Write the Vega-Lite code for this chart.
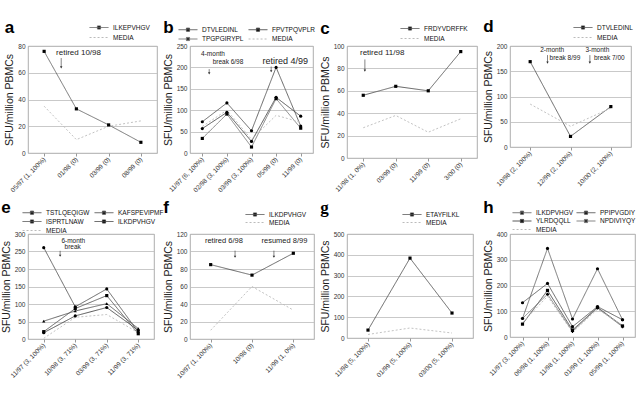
{
  "$schema": "https://vega.github.io/schema/vega-lite/v6.json",
  "padding": {"left": 0, "top": 17, "right": 0, "bottom": 0},
  "background": "white",
  "columns": 4,
  "bounds": "flush",
  "spacing": {"row": 76, "column": 33},
  "resolve": {"scale": {"color": "independent", "strokeDash": "independent", "shape": "independent"}, "legend": {"color": "independent", "strokeDash": "independent", "shape": "independent"}},
  "datasets": {
    "a": [
      {"s": "ILKEPVHGV", "i": 0, "v": 76}, {"s": "ILKEPVHGV", "i": 1, "v": 33}, {"s": "ILKEPVHGV", "i": 2, "v": 21}, {"s": "ILKEPVHGV", "i": 3, "v": 8},
      {"s": "MEDIA", "i": 0, "v": 35}, {"s": "MEDIA", "i": 1, "v": 10}, {"s": "MEDIA", "i": 2, "v": 20}, {"s": "MEDIA", "i": 3, "v": 24}
    ],
    "a_t": [{"i": 0.37, "v": 75, "t": "retired 10/98"}],
    "a_r": [{"i": 0.53, "v": 64, "v2": 71}],
    "b": [
      {"s": "DTVLEDINL", "i": 0, "v": 73}, {"s": "DTVLEDINL", "i": 1, "v": 117}, {"s": "DTVLEDINL", "i": 2, "v": 52}, {"s": "DTVLEDINL", "i": 3, "v": 200}, {"s": "DTVLEDINL", "i": 4, "v": 63},
      {"s": "FPVTPQVPLR", "i": 0, "v": 57}, {"s": "FPVTPQVPLR", "i": 1, "v": 95}, {"s": "FPVTPQVPLR", "i": 2, "v": 27}, {"s": "FPVTPQVPLR", "i": 3, "v": 130}, {"s": "FPVTPQVPLR", "i": 4, "v": 86},
      {"s": "TPGPGIRYPL", "i": 0, "v": 34}, {"s": "TPGPGIRYPL", "i": 1, "v": 91}, {"s": "TPGPGIRYPL", "i": 2, "v": 14}, {"s": "TPGPGIRYPL", "i": 3, "v": 127}, {"s": "TPGPGIRYPL", "i": 4, "v": 58},
      {"s": "MEDIA", "i": 0, "v": 62}, {"s": "MEDIA", "i": 1, "v": 100}, {"s": "MEDIA", "i": 2, "v": 32}, {"s": "MEDIA", "i": 3, "v": 88}, {"s": "MEDIA", "i": 4, "v": 72}
    ],
    "b_t": [{"i": -0.05, "v": 231, "t": "4-month"}, {"i": 0.42, "v": 212, "t": "break 6/98"}],
    "b_t2": [{"i": 2.45, "v": 214, "t": "retired 4/99"}],
    "b_r": [{"i": 0.28, "v": 186, "v2": 196}, {"i": 2.8, "v": 191, "v2": 202}],
    "c": [
      {"s": "FRDYVDRFFK", "i": 0, "v": 56}, {"s": "FRDYVDRFFK", "i": 1, "v": 64}, {"s": "FRDYVDRFFK", "i": 2, "v": 60}, {"s": "FRDYVDRFFK", "i": 3, "v": 95},
      {"s": "MEDIA", "i": 0, "v": 27}, {"s": "MEDIA", "i": 1, "v": 38}, {"s": "MEDIA", "i": 2, "v": 23}, {"s": "MEDIA", "i": 3, "v": 35}
    ],
    "c_t": [{"i": -0.1, "v": 94, "t": "retired 11/98"}],
    "c_r": [{"i": 0.05, "v": 78, "v2": 88}],
    "d": [
      {"s": "DTVLEDINL", "i": 0, "v": 169}, {"s": "DTVLEDINL", "i": 1, "v": 21}, {"s": "DTVLEDINL", "i": 2, "v": 80},
      {"s": "MEDIA", "i": 0, "v": 85}, {"s": "MEDIA", "i": 1, "v": 41}, {"s": "MEDIA", "i": 2, "v": 77}
    ],
    "d_t": [{"i": 0.25, "v": 193, "t": "2-month"}, {"i": 0.48, "v": 176, "t": "break 8/99"}, {"i": 1.37, "v": 193, "t": "3-month"}, {"i": 1.58, "v": 176, "t": "break 7/00"}],
    "d_r": [{"i": 0.43, "v": 167, "v2": 182}, {"i": 1.48, "v": 167, "v2": 182}],
    "e": [
      {"s": "TSTLQEQIGW", "i": 0, "v": 261}, {"s": "TSTLQEQIGW", "i": 1, "v": 92}, {"s": "TSTLQEQIGW", "i": 2, "v": 143}, {"s": "TSTLQEQIGW", "i": 3, "v": 20},
      {"s": "KAFSPEVIPMF", "i": 0, "v": 51}, {"s": "KAFSPEVIPMF", "i": 1, "v": 80}, {"s": "KAFSPEVIPMF", "i": 2, "v": 101}, {"s": "KAFSPEVIPMF", "i": 3, "v": 30},
      {"s": "ISPRTLNAW", "i": 0, "v": 21}, {"s": "ISPRTLNAW", "i": 1, "v": 87}, {"s": "ISPRTLNAW", "i": 2, "v": 124}, {"s": "ISPRTLNAW", "i": 3, "v": 15},
      {"s": "ILKDPVHGV", "i": 0, "v": 18}, {"s": "ILKDPVHGV", "i": 1, "v": 66}, {"s": "ILKDPVHGV", "i": 2, "v": 90}, {"s": "ILKDPVHGV", "i": 3, "v": 25},
      {"s": "MEDIA", "i": 0, "v": 2}, {"s": "MEDIA", "i": 1, "v": 62}, {"s": "MEDIA", "i": 2, "v": 70}, {"s": "MEDIA", "i": 3, "v": 18}
    ],
    "e_t": [{"i": 0.56, "v": 280, "t": "6-month"}, {"i": 0.66, "v": 262, "t": "break"}],
    "e_r": [{"i": 0.52, "v": 238, "v2": 252}],
    "f": [
      {"s": "ILKDPVHGV", "i": 0, "v": 85}, {"s": "ILKDPVHGV", "i": 1, "v": 73}, {"s": "ILKDPVHGV", "i": 2, "v": 98},
      {"s": "MEDIA", "i": 0, "v": 10}, {"s": "MEDIA", "i": 1, "v": 60}, {"s": "MEDIA", "i": 2, "v": 33}
    ],
    "f_t": [{"i": -0.14, "v": 112, "t": "retired  6/98"}, {"i": 1.23, "v": 112, "t": "resumed 8/99"}],
    "f_r": [{"i": 0.59, "v": 94, "v2": 101}, {"i": 1.53, "v": 94, "v2": 101}],
    "g": [
      {"s": "ETAYFILKL", "i": 0, "v": 38}, {"s": "ETAYFILKL", "i": 1, "v": 384}, {"s": "ETAYFILKL", "i": 2, "v": 120},
      {"s": "MEDIA", "i": 0, "v": 17}, {"s": "MEDIA", "i": 1, "v": 48}, {"s": "MEDIA", "i": 2, "v": 24}
    ],
    "h": [
      {"s": "ILKDPVHGV", "i": 0, "v": 72}, {"s": "ILKDPVHGV", "i": 1, "v": 344}, {"s": "ILKDPVHGV", "i": 2, "v": 70}, {"s": "ILKDPVHGV", "i": 3, "v": 265}, {"s": "ILKDPVHGV", "i": 4, "v": 67},
      {"s": "PPIPVGDIY", "i": 0, "v": 133}, {"s": "PPIPVGDIY", "i": 1, "v": 208}, {"s": "PPIPVGDIY", "i": 2, "v": 40}, {"s": "PPIPVGDIY", "i": 3, "v": 118}, {"s": "PPIPVGDIY", "i": 4, "v": 67},
      {"s": "YLRDQQLL", "i": 0, "v": 50}, {"s": "YLRDQQLL", "i": 1, "v": 181}, {"s": "YLRDQQLL", "i": 2, "v": 27}, {"s": "YLRDQQLL", "i": 3, "v": 115}, {"s": "YLRDQQLL", "i": 4, "v": 43},
      {"s": "NPDIVIYQY", "i": 0, "v": 72}, {"s": "NPDIVIYQY", "i": 1, "v": 166}, {"s": "NPDIVIYQY", "i": 2, "v": 22}, {"s": "NPDIVIYQY", "i": 3, "v": 113}, {"s": "NPDIVIYQY", "i": 4, "v": 40},
      {"s": "MEDIA", "i": 0, "v": 56}, {"s": "MEDIA", "i": 1, "v": 158}, {"s": "MEDIA", "i": 2, "v": 18}, {"s": "MEDIA", "i": 3, "v": 108}, {"s": "MEDIA", "i": 4, "v": 46}
    ]
  },
  "concat": [
    {
      "title": {"text": "a", "offset": -13},
      "width": 129, "height": 107,
      "encoding": {
        "x": {"field": "i", "type": "quantitative", "scale": {"domain": [-0.5, 3.5], "nice": false, "zero": false}, "axis": {"values": [0, 1, 2, 3], "labelOverlap": false, "labelExpr": "['05/97 (1, 100%)','01/98 (0)','03/99 (0)','08/99 (0)'][datum.value]", "title": null}},
        "y": {"field": "v", "type": "quantitative", "scale": {"domain": [0, 80], "nice": false}, "axis": {"values": [0, 20, 40, 60, 80], "labelOverlap": false, "title": "SFU/million PBMCs"}}
      },
      "layer": [
        {"data": {"name": "a"}, "mark": {"type": "line", "strokeWidth": 0.9},
          "encoding": {
            "color": {"field": "s", "type": "nominal", "scale": {"domain": ["ILKEPVHGV", "MEDIA"], "range": ["#666", "#bbb"]}, "legend": {"title": null, "orient": "none", "direction": "horizontal", "columns": 1, "legendX": 67, "legendY": -22.5, "rowPadding": 2, "encode": {"symbols": {"update": {"shape": {"signal": "datum.value === 'MEDIA' ? 'M-2.7,0H2.7' : 'M-2.7,0H2.7M-0.45,-0.45H0.45V0.45H-0.45Z'"}, "fill": {"value": "#000"}, "stroke": {"signal": "datum.value === 'MEDIA' ? '#666' : '#000'"}}}}}},
            "strokeDash": {"field": "s", "type": "nominal", "scale": {"domain": ["ILKEPVHGV", "MEDIA"], "range": [[1, 0], [2, 2]]}, "legend": {"title": null, "orient": "none", "direction": "horizontal", "columns": 1, "legendX": 67, "legendY": -22.5, "rowPadding": 2}}
          }},
        {"data": {"name": "a"}, "transform": [{"filter": "datum.s !== 'MEDIA'"}], "mark": {"type": "point", "filled": true, "color": "#000", "size": 10, "opacity": 1},
          "encoding": {"shape": {"field": "s", "type": "nominal", "scale": {"domain": ["ILKEPVHGV"], "range": ["square"]}, "legend": null}}},
        {"data": {"name": "a_t"}, "mark": {"type": "text", "align": "left", "baseline": "middle", "fontSize": 8, "color": "#222"},
          "encoding": {"text": {"field": "t"}}},
        {"data": {"name": "a_r"}, "mark": {"type": "rule", "color": "#333", "strokeWidth": 0.6},
          "encoding": {"y2": {"field": "v2"}}},
        {"data": {"name": "a_r"}, "mark": {"type": "point", "shape": "triangle-down", "filled": true, "color": "#333", "size": 6, "opacity": 1}}
      ]
    },
    {
      "title": {"text": "b", "offset": -11},
      "width": 123, "height": 107,
      "encoding": {
        "x": {"field": "i", "type": "quantitative", "scale": {"domain": [-0.5, 4.5], "nice": false, "zero": false}, "axis": {"values": [0, 1, 2, 3, 4], "labelOverlap": false, "labelExpr": "['11/97 (6, 100%)','02/98 (3, 100%)','03/99 (3, 100%)','05/99 (0)','11/99 (0)'][datum.value]", "title": null}},
        "y": {"field": "v", "type": "quantitative", "scale": {"domain": [0, 250], "nice": false}, "axis": {"values": [0, 50, 100, 150, 200, 250], "labelOverlap": false, "title": "SFU/million PBMCs"}}
      },
      "layer": [
        {"data": {"name": "b"}, "mark": {"type": "line", "strokeWidth": 0.9},
          "encoding": {
            "color": {"field": "s", "type": "nominal", "scale": {"domain": ["DTVLEDINL", "FPVTPQVPLR", "TPGPGIRYPL", "MEDIA"], "range": ["#555", "#444", "#777", "#bbb"]}, "legend": {"title": null, "orient": "none", "direction": "horizontal", "legendX": -6, "legendY": -20.5, "columns": 2, "columnPadding": 2, "rowPadding": 1.5, "encode": {"symbols": {"update": {"shape": {"signal": "datum.value === 'MEDIA' ? 'M-2.7,0H2.7' : 'M-2.7,0H2.7M-0.45,-0.45H0.45V0.45H-0.45Z'"}, "fill": {"value": "#000"}, "stroke": {"signal": "datum.value === 'MEDIA' ? '#666' : '#000'"}}}}}},
            "strokeDash": {"field": "s", "type": "nominal", "scale": {"domain": ["DTVLEDINL", "FPVTPQVPLR", "TPGPGIRYPL", "MEDIA"], "range": [[1, 0], [1, 0], [1, 0], [2, 2]]}, "legend": {"title": null, "orient": "none", "direction": "horizontal", "legendX": -6, "legendY": -20.5, "columns": 2, "columnPadding": 2, "rowPadding": 1.5}}
          }},
        {"data": {"name": "b"}, "transform": [{"filter": "datum.s !== 'MEDIA'"}], "mark": {"type": "point", "filled": true, "color": "#000", "size": 10, "opacity": 1},
          "encoding": {"shape": {"field": "s", "type": "nominal", "scale": {"domain": ["DTVLEDINL", "FPVTPQVPLR", "TPGPGIRYPL"], "range": ["circle", "circle", "square"]}, "legend": null}}},
        {"data": {"name": "b_t"}, "mark": {"type": "text", "align": "left", "baseline": "middle", "fontSize": 6.5, "color": "#222"},
          "encoding": {"text": {"field": "t"}}},
        {"data": {"name": "b_t2"}, "mark": {"type": "text", "align": "left", "baseline": "middle", "fontSize": 9, "color": "#222"},
          "encoding": {"text": {"field": "t"}}},
        {"data": {"name": "b_r"}, "mark": {"type": "rule", "color": "#333", "strokeWidth": 0.6},
          "encoding": {"y2": {"field": "v2"}}},
        {"data": {"name": "b_r"}, "mark": {"type": "point", "shape": "triangle-down", "filled": true, "color": "#333", "size": 6, "opacity": 1}}
      ]
    },
    {
      "title": {"text": "c", "offset": -13},
      "width": 130, "height": 112,
      "encoding": {
        "x": {"field": "i", "type": "quantitative", "scale": {"domain": [-0.5, 3.5], "nice": false, "zero": false}, "axis": {"values": [0, 1, 2, 3], "labelOverlap": false, "labelExpr": "['11/98 (1, 0%)','03/99 (0)','11/99 (0)','3/00 (0)'][datum.value]", "title": null}},
        "y": {"field": "v", "type": "quantitative", "scale": {"domain": [0, 100], "nice": false}, "axis": {"values": [0, 20, 40, 60, 80, 100], "labelOverlap": false, "title": "SFU/million PBMCs"}}
      },
      "layer": [
        {"data": {"name": "c"}, "mark": {"type": "line", "strokeWidth": 0.9},
          "encoding": {
            "color": {"field": "s", "type": "nominal", "scale": {"domain": ["FRDYVDRFFK", "MEDIA"], "range": ["#555", "#bbb"]}, "legend": {"title": null, "orient": "none", "direction": "horizontal", "columns": 1, "legendX": 59, "legendY": -21.5, "rowPadding": 2, "encode": {"symbols": {"update": {"shape": {"signal": "datum.value === 'MEDIA' ? 'M-2.7,0H2.7' : 'M-2.7,0H2.7M-0.45,-0.45H0.45V0.45H-0.45Z'"}, "fill": {"value": "#000"}, "stroke": {"signal": "datum.value === 'MEDIA' ? '#666' : '#000'"}}}}}},
            "strokeDash": {"field": "s", "type": "nominal", "scale": {"domain": ["FRDYVDRFFK", "MEDIA"], "range": [[1, 0], [2, 2]]}, "legend": {"title": null, "orient": "none", "direction": "horizontal", "columns": 1, "legendX": 59, "legendY": -21.5, "rowPadding": 2}}
          }},
        {"data": {"name": "c"}, "transform": [{"filter": "datum.s !== 'MEDIA'"}], "mark": {"type": "point", "filled": true, "color": "#000", "size": 10, "opacity": 1},
          "encoding": {"shape": {"field": "s", "type": "nominal", "scale": {"domain": ["FRDYVDRFFK"], "range": ["square"]}, "legend": null}}},
        {"data": {"name": "c_t"}, "mark": {"type": "text", "align": "left", "baseline": "middle", "fontSize": 8, "color": "#222"},
          "encoding": {"text": {"field": "t"}}},
        {"data": {"name": "c_r"}, "mark": {"type": "rule", "color": "#333", "strokeWidth": 0.6},
          "encoding": {"y2": {"field": "v2"}}},
        {"data": {"name": "c_r"}, "mark": {"type": "point", "shape": "triangle-down", "filled": true, "color": "#333", "size": 6, "opacity": 1}}
      ]
    },
    {
      "title": {"text": "d", "offset": -12},
      "width": 121, "height": 101,
      "encoding": {
        "x": {"field": "i", "type": "quantitative", "scale": {"domain": [-0.5, 2.5], "nice": false, "zero": false}, "axis": {"values": [0, 1, 2], "labelOverlap": false, "labelExpr": "['10/98 (2, 100%)','12/99 (2, 100%)','10/00 (2, 100%)'][datum.value]", "title": null}},
        "y": {"field": "v", "type": "quantitative", "scale": {"domain": [0, 200], "nice": false}, "axis": {"values": [0, 50, 100, 150, 200], "labelOverlap": false, "title": "SFU/million PBMCs"}}
      },
      "layer": [
        {"data": {"name": "d"}, "mark": {"type": "line", "strokeWidth": 0.9},
          "encoding": {
            "color": {"field": "s", "type": "nominal", "scale": {"domain": ["DTVLEDINL", "MEDIA"], "range": ["#555", "#bbb"]}, "legend": {"title": null, "orient": "none", "direction": "horizontal", "columns": 1, "legendX": 69, "legendY": -22.5, "rowPadding": 2, "encode": {"symbols": {"update": {"shape": {"signal": "datum.value === 'MEDIA' ? 'M-2.7,0H2.7' : 'M-2.7,0H2.7M-0.45,-0.45H0.45V0.45H-0.45Z'"}, "fill": {"value": "#000"}, "stroke": {"signal": "datum.value === 'MEDIA' ? '#666' : '#000'"}}}}}},
            "strokeDash": {"field": "s", "type": "nominal", "scale": {"domain": ["DTVLEDINL", "MEDIA"], "range": [[1, 0], [2, 2]]}, "legend": {"title": null, "orient": "none", "direction": "horizontal", "columns": 1, "legendX": 69, "legendY": -22.5, "rowPadding": 2}}
          }},
        {"data": {"name": "d"}, "transform": [{"filter": "datum.s !== 'MEDIA'"}], "mark": {"type": "point", "filled": true, "color": "#000", "size": 10, "opacity": 1},
          "encoding": {"shape": {"field": "s", "type": "nominal", "scale": {"domain": ["DTVLEDINL"], "range": ["square"]}, "legend": null}}},
        {"data": {"name": "d_t"}, "mark": {"type": "text", "align": "left", "baseline": "middle", "fontSize": 6.5, "color": "#222"},
          "encoding": {"text": {"field": "t"}}},
        {"data": {"name": "d_r"}, "mark": {"type": "rule", "color": "#333", "strokeWidth": 0.6},
          "encoding": {"y2": {"field": "v2"}}},
        {"data": {"name": "d_r"}, "mark": {"type": "point", "shape": "triangle-down", "filled": true, "color": "#333", "size": 6, "opacity": 1}}
      ]
    },
    {
      "title": {"text": "e", "offset": -8},
      "width": 126, "height": 105,
      "encoding": {
        "x": {"field": "i", "type": "quantitative", "scale": {"domain": [-0.5, 3.5], "nice": false, "zero": false}, "axis": {"values": [0, 1, 2, 3], "labelOverlap": false, "labelExpr": "['11/97 (3, 100%)','10/98 (3, 71%)','03/99 (3, 71%)','11/99 (3, 71%)'][datum.value]", "title": null}},
        "y": {"field": "v", "type": "quantitative", "scale": {"domain": [0, 300], "nice": false}, "axis": {"values": [0, 50, 100, 150, 200, 250, 300], "labelOverlap": false, "title": "SFU/million PBMCs"}}
      },
      "layer": [
        {"data": {"name": "e"}, "mark": {"type": "line", "strokeWidth": 0.9},
          "encoding": {
            "color": {"field": "s", "type": "nominal", "scale": {"domain": ["TSTLQEQIGW", "KAFSPEVIPMF", "ISPRTLNAW", "ILKDPVHGV", "MEDIA"], "range": ["#555", "#555", "#555", "#444", "#bbb"]}, "legend": {"title": null, "orient": "none", "direction": "horizontal", "legendX": 0, "legendY": -25.5, "columns": 2, "columnPadding": 2, "rowPadding": 1, "encode": {"symbols": {"update": {"shape": {"signal": "datum.value === 'MEDIA' ? 'M-2.7,0H2.7' : 'M-2.7,0H2.7M-0.45,-0.45H0.45V0.45H-0.45Z'"}, "fill": {"value": "#000"}, "stroke": {"signal": "datum.value === 'MEDIA' ? '#666' : '#000'"}}}}}},
            "strokeDash": {"field": "s", "type": "nominal", "scale": {"domain": ["TSTLQEQIGW", "KAFSPEVIPMF", "ISPRTLNAW", "ILKDPVHGV", "MEDIA"], "range": [[1, 0], [1, 0], [1, 0], [1, 0], [2, 2]]}, "legend": {"title": null, "orient": "none", "direction": "horizontal", "legendX": 0, "legendY": -25.5, "columns": 2, "columnPadding": 2, "rowPadding": 1}}
          }},
        {"data": {"name": "e"}, "transform": [{"filter": "datum.s !== 'MEDIA'"}], "mark": {"type": "point", "filled": true, "color": "#000", "size": 10, "opacity": 1},
          "encoding": {"shape": {"field": "s", "type": "nominal", "scale": {"domain": ["TSTLQEQIGW", "KAFSPEVIPMF", "ISPRTLNAW", "ILKDPVHGV"], "range": ["circle", "triangle-up", "square", "circle"]}, "legend": null}}},
        {"data": {"name": "e_t"}, "mark": {"type": "text", "align": "left", "baseline": "middle", "fontSize": 6.5, "color": "#222"},
          "encoding": {"text": {"field": "t"}}},
        {"data": {"name": "e_r"}, "mark": {"type": "rule", "color": "#333", "strokeWidth": 0.6},
          "encoding": {"y2": {"field": "v2"}}},
        {"data": {"name": "e_r"}, "mark": {"type": "point", "shape": "triangle-down", "filled": true, "color": "#333", "size": 6, "opacity": 1}}
      ]
    },
    {
      "title": {"text": "f", "offset": -6},
      "width": 124, "height": 105,
      "encoding": {
        "x": {"field": "i", "type": "quantitative", "scale": {"domain": [-0.5, 2.5], "nice": false, "zero": false}, "axis": {"values": [0, 1, 2], "labelOverlap": false, "labelExpr": "['10/97 (1, 100%)','10/98 (0)','11/99 (1, 0%)'][datum.value]", "title": null}},
        "y": {"field": "v", "type": "quantitative", "scale": {"domain": [0, 120], "nice": false}, "axis": {"values": [0, 20, 40, 60, 80, 100, 120], "labelOverlap": false, "title": "SFU/million PBMCs"}}
      },
      "layer": [
        {"data": {"name": "f"}, "mark": {"type": "line", "strokeWidth": 0.9},
          "encoding": {
            "color": {"field": "s", "type": "nominal", "scale": {"domain": ["ILKDPVHGV", "MEDIA"], "range": ["#555", "#bbb"]}, "legend": {"title": null, "orient": "none", "direction": "horizontal", "columns": 1, "legendX": 61, "legendY": -23.5, "rowPadding": 0, "encode": {"symbols": {"update": {"shape": {"signal": "datum.value === 'MEDIA' ? 'M-2.7,0H2.7' : 'M-2.7,0H2.7M-0.45,-0.45H0.45V0.45H-0.45Z'"}, "fill": {"value": "#000"}, "stroke": {"signal": "datum.value === 'MEDIA' ? '#666' : '#000'"}}}}}},
            "strokeDash": {"field": "s", "type": "nominal", "scale": {"domain": ["ILKDPVHGV", "MEDIA"], "range": [[1, 0], [2, 2]]}, "legend": {"title": null, "orient": "none", "direction": "horizontal", "columns": 1, "legendX": 61, "legendY": -23.5, "rowPadding": 0}}
          }},
        {"data": {"name": "f"}, "transform": [{"filter": "datum.s !== 'MEDIA'"}], "mark": {"type": "point", "filled": true, "color": "#000", "size": 10, "opacity": 1},
          "encoding": {"shape": {"field": "s", "type": "nominal", "scale": {"domain": ["ILKDPVHGV"], "range": ["square"]}, "legend": null}}},
        {"data": {"name": "f_t"}, "mark": {"type": "text", "align": "left", "baseline": "middle", "fontSize": 7.5, "color": "#222"},
          "encoding": {"text": {"field": "t"}}},
        {"data": {"name": "f_r"}, "mark": {"type": "rule", "color": "#333", "strokeWidth": 0.6},
          "encoding": {"y2": {"field": "v2"}}},
        {"data": {"name": "f_r"}, "mark": {"type": "point", "shape": "triangle-down", "filled": true, "color": "#333", "size": 6, "opacity": 1}}
      ]
    },
    {
      "title": {"text": "g", "offset": -6, "font": "Liberation Serif"},
      "width": 126, "height": 104,
      "encoding": {
        "x": {"field": "i", "type": "quantitative", "scale": {"domain": [-0.5, 2.5], "nice": false, "zero": false}, "axis": {"values": [0, 1, 2], "labelOverlap": false, "labelExpr": "['11/98 (5, 100%)','01/99 (5, 100%)','03/00 (5, 100%)'][datum.value]", "title": null}},
        "y": {"field": "v", "type": "quantitative", "scale": {"domain": [0, 500], "nice": false}, "axis": {"values": [0, 100, 200, 300, 400, 500], "labelOverlap": false, "title": "SFU/million PBMCs"}}
      },
      "layer": [
        {"data": {"name": "g"}, "mark": {"type": "line", "strokeWidth": 0.9},
          "encoding": {
            "color": {"field": "s", "type": "nominal", "scale": {"domain": ["ETAYFILKL", "MEDIA"], "range": ["#555", "#bbb"]}, "legend": {"title": null, "orient": "none", "direction": "horizontal", "columns": 1, "legendX": 61, "legendY": -23.5, "rowPadding": 0, "encode": {"symbols": {"update": {"shape": {"signal": "datum.value === 'MEDIA' ? 'M-2.7,0H2.7' : 'M-2.7,0H2.7M-0.45,-0.45H0.45V0.45H-0.45Z'"}, "fill": {"value": "#000"}, "stroke": {"signal": "datum.value === 'MEDIA' ? '#666' : '#000'"}}}}}},
            "strokeDash": {"field": "s", "type": "nominal", "scale": {"domain": ["ETAYFILKL", "MEDIA"], "range": [[1, 0], [2, 2]]}, "legend": {"title": null, "orient": "none", "direction": "horizontal", "columns": 1, "legendX": 61, "legendY": -23.5, "rowPadding": 0}}
          }},
        {"data": {"name": "g"}, "transform": [{"filter": "datum.s !== 'MEDIA'"}], "mark": {"type": "point", "filled": true, "color": "#000", "size": 10, "opacity": 1},
          "encoding": {"shape": {"field": "s", "type": "nominal", "scale": {"domain": ["ETAYFILKL"], "range": ["square"]}, "legend": null}}}
      ]
    },
    {
      "title": {"text": "h", "offset": -8},
      "width": 125, "height": 103,
      "encoding": {
        "x": {"field": "i", "type": "quantitative", "scale": {"domain": [-0.5, 4.5], "nice": false, "zero": false}, "axis": {"values": [0, 1, 2, 3, 4], "labelOverlap": false, "labelExpr": "['11/97 (3, 100%)','06/98 (1, 100%)','11/98 (1, 100%)','01/99 (1, 100%)','05/99 (1, 100%)'][datum.value]", "title": null}},
        "y": {"field": "v", "type": "quantitative", "scale": {"domain": [0, 400], "nice": false}, "axis": {"values": [0, 100, 200, 300, 400], "labelOverlap": false, "title": "SFU/million PBMCs"}}
      },
      "layer": [
        {"data": {"name": "h"}, "mark": {"type": "line", "strokeWidth": 0.9},
          "encoding": {
            "color": {"field": "s", "type": "nominal", "scale": {"domain": ["ILKDPVHGV", "PPIPVGDIY", "YLRDQQLL", "NPDIVIYQY", "MEDIA"], "range": ["#666", "#555", "#444", "#777", "#bbb"]}, "legend": {"title": null, "orient": "none", "direction": "horizontal", "legendX": 8, "legendY": -25.5, "columns": 2, "columnPadding": 0, "rowPadding": 0.5, "encode": {"symbols": {"update": {"shape": {"signal": "datum.value === 'MEDIA' ? 'M-2.7,0H2.7' : 'M-2.7,0H2.7M-0.45,-0.45H0.45V0.45H-0.45Z'"}, "fill": {"value": "#000"}, "stroke": {"signal": "datum.value === 'MEDIA' ? '#666' : '#000'"}}}}}},
            "strokeDash": {"field": "s", "type": "nominal", "scale": {"domain": ["ILKDPVHGV", "PPIPVGDIY", "YLRDQQLL", "NPDIVIYQY", "MEDIA"], "range": [[1, 0], [1, 0], [1, 0], [1, 0], [2, 2]]}, "legend": {"title": null, "orient": "none", "direction": "horizontal", "legendX": 8, "legendY": -25.5, "columns": 2, "columnPadding": 0, "rowPadding": 0.5}}
          }},
        {"data": {"name": "h"}, "transform": [{"filter": "datum.s !== 'MEDIA'"}], "mark": {"type": "point", "filled": true, "color": "#000", "size": 10, "opacity": 1},
          "encoding": {"shape": {"field": "s", "type": "nominal", "scale": {"domain": ["ILKDPVHGV", "PPIPVGDIY", "YLRDQQLL", "NPDIVIYQY"], "range": ["circle", "circle", "square", "cross"]}, "legend": null}}}
      ]
    }
  ],
  "config": {
    "font": "Liberation Sans",
    "view": {"stroke": "#999", "strokeWidth": 0.8},
    "axis": {"labelFont": "Liberation Sans", "labelColor": "#333", "titleFont": "Liberation Sans", "titleFontWeight": "normal", "titleColor": "#222", "gridColor": "#bbb", "gridWidth": 0.8, "domain": false, "labelOverlap": false},
    "axisX": {"grid": false, "labelAngle": -45, "labelAlign": "right", "labelBaseline": "middle", "labelFontSize": 6.5, "tickSize": 3, "tickColor": "#999", "labelPadding": 2, "labelFlush": false},
    "axisY": {"ticks": false, "labelFontSize": 6.5, "labelPadding": 3, "titleFontSize": 10.5, "titlePadding": 3},
    "legend": {"labelFont": "Liberation Sans", "labelFontSize": 6.5, "labelColor": "#111", "symbolSize": 49, "symbolStrokeWidth": 1, "symbolType": "M-2.7,0H2.7", "labelOffset": 10, "padding": 0},
    "title": {"anchor": "start", "fontSize": 17, "fontWeight": "bold", "font": "Liberation Sans", "color": "#000", "frame": "bounds"}
  }
}
